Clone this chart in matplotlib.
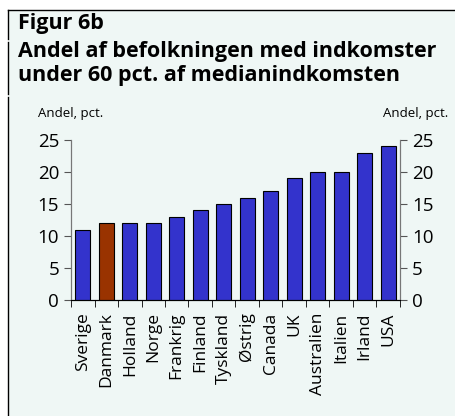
import numpy as np
import matplotlib.pyplot as plt
from matplotlib.lines import Line2D
from matplotlib.patches import Rectangle

countries = ['Sverige', 'Danmark', 'Holland', 'Norge', 'Frankrig', 'Finland',
             'Tyskland', 'Østrig', 'Canada', 'UK', 'Australien', 'Italien',
             'Irland', 'USA']
andel = [11, 12, 12, 12, 13, 14, 15, 16, 17, 19, 20, 20, 23, 24]
highlight = 'Danmark'
yticks = [0, 5, 10, 15, 20, 25]

bg = '#eff7f5'
blue = '#3333cc'
brown = '#993300'

plt.rcParams['font.family'] = ['Open Sans', 'DejaVu Sans']

fig = plt.figure(figsize=(4.56, 4.16), dpi=100)
fig.patch.set_facecolor('white')

W, H = 456, 416
def fx(x): return x / W
def fy(y): return 1 - y / H

# panel background and frame lines
fig.patches.append(Rectangle((fx(9), 0), 1, fy(11), transform=fig.transFigure,
                             facecolor=bg, edgecolor='none', zorder=-5))
fig.lines.append(Line2D([fx(8), 1], [fy(10), fy(10)], transform=fig.transFigure,
                        color='black', lw=1))
for y0, y1 in [(10, 39), (42, 94), (97, 416)]:
    fig.lines.append(Line2D([fx(8), fx(8)], [fy(y0), fy(y1)],
                            transform=fig.transFigure, color='black', lw=1))

fig.text(fx(18), fy(23), 'Figur 6b', fontsize=15.5, fontweight='bold', va='center')
fig.text(fx(18), fy(52), 'Andel af befolkningen med indkomster', fontsize=15.5,
         fontweight='bold', va='center')
fig.text(fx(18), fy(76), 'under 60 pct. af medianindkomsten', fontsize=15.5,
         fontweight='bold', va='center')
fig.text(fx(38), fy(113), 'Andel, pct.', fontsize=9.5, va='center')
fig.text(fx(448), fy(113), 'Andel, pct.', fontsize=9.5, va='center', ha='right')

ax = fig.add_axes([fx(71), fy(300), fx(400) - fx(71), fy(140) - fy(300)])
ax.set_zorder(2)
ax.patch.set_visible(False)
x = np.arange(len(countries))
colors = [brown if c == highlight else blue for c in countries]
ax.bar(x, andel, width=0.65, color=colors, edgecolor='black', linewidth=0.8, zorder=3)

ax.set_xlim(-0.5, len(countries) - 0.5)
ax.set_ylim(0, 25)
ax.set_yticks(yticks)
ax.tick_params(axis='y', labelsize=13.5, length=5, color='#555555', direction='out')

ax.set_xticks(x)
ax.set_xticklabels(countries, rotation=90, fontsize=12.5)
ax.tick_params(axis='x', length=0, pad=9)
ax.set_xticks(np.arange(len(countries) + 1) - 0.5, minor=True)
ax.tick_params(axis='x', which='minor', length=5, color='black')

ax2 = ax.twinx()
ax2.set_ylim(0, 25)
ax2.set_yticks(yticks)
ax2.tick_params(axis='y', labelsize=13.5, length=5, color='#555555', direction='out')

for a in (ax, ax2):
    a.spines['top'].set_visible(False)
    a.spines['left'].set_color('#777777')
    a.spines['right'].set_color('#777777')
    a.spines['bottom'].set_color('black')

fig.savefig('out.png', dpi=100, facecolor='white')
